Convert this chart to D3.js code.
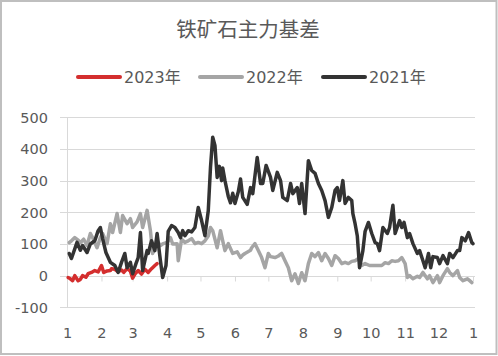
<!DOCTYPE html>
<html><head><meta charset="utf-8">
<script src="https://cdn.jsdelivr.net/npm/d3@7/dist/d3.min.js"></script>
<style>html,body{margin:0;padding:0;background:#fff;}svg{display:block;}</style>
</head><body>
<script>
// ---- data (day of year, basis value) ----
const title = "铁矿石主力基差";
const seriesNames = ["2023年", "2022年", "2021年"];
const yTicks = [-100, 0, 100, 200, 300, 400, 500];

const days2023 = [1,3,5,7,10,12,14,17,19,22,25,28,31,33,36,39,40,43,46,49,51,54,57,59,61,64,67,70,73,76,79,81];
const values2023 = [-6,-10,-16,0,-16,-12,0,-5,6,10,16,12,32,10,15,16,22,20,12,18,10,22,14,-8,5,16,5,20,10,22,32,38];

const days2022 = [2,4,7,10,12,15,18,21,23,27,30,32,36,39,41,45,48,50,54,57,59,63,66,68,72,75,77,81,84,86,90,93,95,99,100,103,106,109,112,115,118,121,124,127,129,131,135,138,140,142,145,149,153,156,158,160,165,166,169,172,175,178,181,183,187,190,193,196,199,202,205,208,211,214,217,220,223,226,229,232,235,238,241,244,247,250,253,256,259,262,265,268,272,279,283,286,289,292,295,298,301,304,306,308,311,315,317,320,324,326,329,333,335,338,342,344,347,351,353,356,360,362,364];
const values2022 = [104,110,120,112,104,115,95,133,120,88,120,133,101,164,136,196,136,190,164,180,152,170,196,152,206,142,70,110,95,100,105,120,100,101,47,115,105,110,117,101,105,101,110,125,152,142,88,142,110,79,101,70,75,57,65,70,80,88,101,79,57,25,70,60,57,62,70,47,25,-16,6,-25,9,-16,38,70,60,73,47,70,54,32,63,54,38,42,38,45,47,54,32,38,32,32,32,41,38,47,45,47,57,38,-6,0,-10,-2,-6,10,-10,0,-22,0,-22,0,22,10,0,16,-6,-16,-10,-16,-22];

const days2021 = [2,4,9,12,14,18,21,25,28,30,32,35,39,43,46,49,52,54,57,59,62,64,66,68,72,73,76,79,81,84,86,89,91,94,97,100,102,104,106,109,112,115,118,121,124,127,129,131,133,135,137,139,140,142,145,147,149,151,154,156,158,162,165,167,171,174,176,179,183,185,189,192,194,198,201,203,207,209,211,214,217,220,223,226,229,232,235,238,241,243,245,248,250,253,256,257,259,261,263,266,268,271,274,277,279,281,284,288,290,293,295,298,299,301,303,306,308,311,315,317,320,322,325,327,329,333,335,338,342,344,347,351,353,355,358,361,364,365];
const values2021 = [70,54,105,80,95,73,100,110,142,152,117,73,42,32,10,42,70,25,42,6,38,57,136,16,79,70,110,79,133,47,-6,32,140,158,152,136,120,142,126,142,138,152,215,174,126,205,342,437,411,310,345,300,340,300,250,230,260,228,265,305,247,225,278,259,373,291,291,348,310,269,326,300,247,237,291,259,278,228,291,196,363,332,323,291,269,237,184,215,269,278,237,300,228,247,237,196,164,125,25,79,140,168,133,104,101,79,152,133,152,222,133,164,174,152,168,120,133,101,70,79,47,25,70,25,60,57,38,63,38,70,57,79,79,120,110,136,104,101];

const colors = ["#d42e2e", "#a5a5a5", "#333333"];

// ---- chart ----
const W = 498, H = 356;
const svg = d3.select("body").append("svg").attr("width", W).attr("height", H);
svg.append("rect").attr("x", 1).attr("y", 1).attr("width", W - 2.5).attr("height", H - 3)
  .attr("fill", "#fff").attr("stroke", "#bfbfbf").attr("stroke-width", 2);

const base = new Date(2021, 0, 1);
const x = d3.scaleTime().domain([base, new Date(2022, 0, 1)]).range([67, 473]);
const y = d3.scaleLinear().domain([-100, 500]).range([307.3, 117.3]);
const toDate = d => d3.timeDay.offset(base, d);
const gridColor = "#d9d9d9";
const textColor = "#595959";

// grid
svg.append("g").selectAll("line").data(yTicks).join("line")
  .attr("x1", 60).attr("x2", 475)
  .attr("y1", d => Math.round(y(d)) + 0.5).attr("y2", d => Math.round(y(d)) + 0.5)
  .attr("stroke", gridColor).attr("stroke-width", 1);
// y axis line
svg.append("line").attr("x1", 67.5).attr("x2", 67.5).attr("y1", y(500)).attr("y2", y(-100))
  .attr("stroke", gridColor);

// y labels
svg.append("g").selectAll("text").data(yTicks).join("text")
  .attr("x", 48).attr("y", d => y(d)).attr("dy", "0.36em")
  .attr("text-anchor", "end").attr("font-family", "DejaVu Sans").attr("font-size", 14.5)
  .attr("fill", textColor).text(d => d);

// x axis at zero
const months = d3.timeMonth.range(base, d3.timeDay.offset(new Date(2022, 0, 1), 1));
const xAxis = d3.axisBottom(x).tickValues(months).tickSize(5).tickFormat(d => d.getMonth() + 1);
const gx = svg.append("g").attr("transform", `translate(0,${Math.round(y(0)) + 0.5})`).call(xAxis);
gx.select(".domain").remove();
gx.selectAll(".tick line").attr("stroke", gridColor);
gx.selectAll(".tick text").attr("y", 0).attr("dy", 0)
  .attr("transform", `translate(0,${337 - Math.round(y(0))})`)
  .attr("font-family", "DejaVu Sans").attr("font-size", 14.5).attr("fill", textColor);

// lines
const line = d3.line().x(d => x(toDate(d[0]))).y(d => y(d[1])).curve(d3.curveLinear);
const series = [
  d3.zip(days2023, values2023),
  d3.zip(days2022, values2022),
  d3.zip(days2021, values2021)
];
svg.append("g").selectAll("path").data(series).join("path")
  .attr("d", line).attr("fill", "none")
  .attr("stroke", (d, i) => colors[i]).attr("stroke-width", 3.5)
  .attr("stroke-linejoin", "round").attr("stroke-linecap", "round");

// title
svg.append("text").attr("x", 248).attr("y", 37).attr("text-anchor", "middle")
  .attr("font-family", "Noto Sans CJK SC").attr("font-size", 20.5).attr("fill", textColor)
  .text(title);

// legend
const legX = [78, 200, 323];
const leg = svg.append("g").selectAll("g").data(seriesNames).join("g")
  .attr("transform", (d, i) => `translate(${legX[i]},77)`);
leg.append("line").attr("x1", 0).attr("x2", 42).attr("y1", 0).attr("y2", 0)
  .attr("stroke", (d, i) => colors[i]).attr("stroke-width", 4).attr("stroke-linecap", "round");
leg.append("text").attr("x", 46).attr("y", 6).attr("font-family", "DejaVu Sans, Noto Sans CJK SC")
  .attr("font-size", 16).attr("fill", textColor).text(d => d);
</script>
</body></html>
